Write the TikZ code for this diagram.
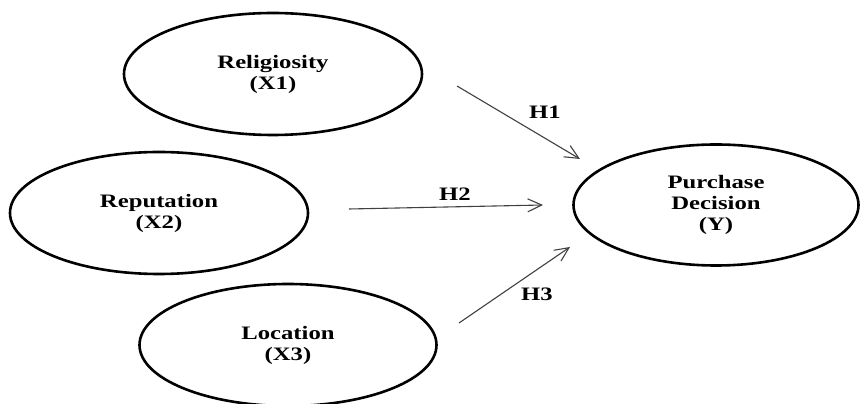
\documentclass[tikz,border=0pt]{standalone}
\usepackage{fontspec}
\setmainfont{Liberation Serif}[FakeStretch=1.3]
\usetikzlibrary{shapes.geometric,arrows.meta}

\tikzset{
	var/.style={ellipse, draw, line width=2.6pt, inner sep=0pt, align=center,
		font=\fontsize{19}{21}\selectfont\bfseries},
	hyp/.style={draw=black!75, line width=1.1pt, -{Straight Barb[length=14pt,width=13pt,line width=1.1pt]}},
	lab/.style={font=\fontsize{19}{21}\selectfont\bfseries}
}

\begin{document}
\begin{tikzpicture}[x=1pt,y=1pt]
					\useasboundingbox (0,0) rectangle (860,404);
					% variables
					\node[var, minimum width=298, minimum height=122] (rel) at (273,330) {Religiosity\\(X1)};
					\node[var, minimum width=298, minimum height=122] (rep) at (159,191) {Reputation\\(X2)};
					\node[var, minimum width=297, minimum height=122] (loc) at (288,59) {Location\\(X3)};
					\node[var, minimum width=285, minimum height=121] (pur) at (716,199) {Purchase\\Decision\\(Y)};
					% arrow ends
					\coordinate (h1a) at (457,318);
					\coordinate (h1b) at (580,245);
					\coordinate (h2a) at (349,195);
					\coordinate (h2b) at (543,199);
					\coordinate (h3a) at (459,81);
					\coordinate (h3b) at (570,157);
					\draw[hyp] (h1a) -- (h1b);
					\draw[hyp] (h2a) -- (h2b);
					\draw[hyp] (h3a) -- (h3b);
					% lables
					\node[lab] (h1) at (545,292) {H1};
					\node[lab] (h2) at (455,210) {H2};
					\node[lab] (h3) at (537,110) {H3};
				\end{tikzpicture}
\end{document}
